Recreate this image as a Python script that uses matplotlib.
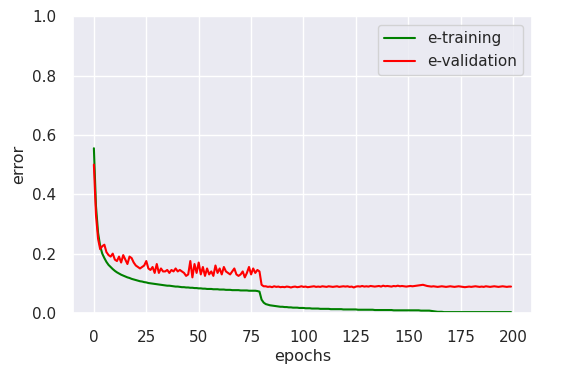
import matplotlib
matplotlib.use("Agg")
import matplotlib.pyplot as plt
import seaborn as sns

sns.set_theme(style="darkgrid")
plt.rcParams['font.family'] = ['DejaVu Sans']

training = [
    0.555, 0.36, 0.27, 0.225, 0.2, 0.185, 0.172, 0.162, 0.155, 0.148,
    0.142, 0.137, 0.133, 0.129, 0.126, 0.123, 0.12, 0.118, 0.115, 0.113,
    0.111, 0.109, 0.107, 0.106, 0.104, 0.103, 0.101, 0.1, 0.099, 0.098,
    0.097, 0.096, 0.095, 0.094, 0.093, 0.092, 0.092, 0.091, 0.09, 0.089,
    0.089, 0.088, 0.087, 0.087, 0.086, 0.086, 0.085, 0.085, 0.084, 0.084,
    0.083, 0.083, 0.082, 0.082, 0.081, 0.081, 0.081, 0.08, 0.08, 0.08,
    0.079, 0.079, 0.079, 0.078, 0.078, 0.078, 0.077, 0.077, 0.077, 0.077,
    0.076, 0.076, 0.076, 0.076, 0.075, 0.075, 0.075, 0.075, 0.074, 0.072,
    0.045, 0.035, 0.03, 0.028, 0.026, 0.025, 0.024, 0.023, 0.022, 0.021,
    0.021, 0.02, 0.02, 0.019, 0.019, 0.018, 0.018, 0.018, 0.017, 0.017,
    0.017, 0.016, 0.016, 0.016, 0.015, 0.015, 0.015, 0.015, 0.014, 0.014,
    0.014, 0.014, 0.014, 0.013, 0.013, 0.013, 0.013, 0.013, 0.013, 0.012,
    0.012, 0.012, 0.012, 0.012, 0.012, 0.012, 0.011, 0.011, 0.011, 0.011,
    0.011, 0.011, 0.011, 0.011, 0.010, 0.010, 0.010, 0.010, 0.010, 0.010,
    0.010, 0.010, 0.010, 0.009, 0.009, 0.009, 0.009, 0.009, 0.009, 0.009,
    0.009, 0.009, 0.009, 0.009, 0.009, 0.009, 0.008, 0.008, 0.008, 0.008,
    0.008, 0.007, 0.006, 0.005, 0.004, 0.004, 0.004, 0.003, 0.003, 0.003,
    0.003, 0.003, 0.003, 0.003, 0.003, 0.003, 0.003, 0.003, 0.003, 0.003,
    0.003, 0.003, 0.003, 0.003, 0.003, 0.003, 0.003, 0.003, 0.003, 0.003,
    0.003, 0.003, 0.003, 0.003, 0.003, 0.003, 0.003, 0.003, 0.003, 0.003,
]

validation = [
    0.50, 0.33, 0.25, 0.215, 0.225, 0.23, 0.205, 0.195, 0.19, 0.20,
    0.18, 0.175, 0.19, 0.17, 0.195, 0.18, 0.165, 0.19, 0.185, 0.17,
    0.16, 0.155, 0.15, 0.155, 0.16, 0.175, 0.15, 0.145, 0.155, 0.135,
    0.165, 0.135, 0.15, 0.14, 0.14, 0.145, 0.135, 0.145, 0.14, 0.15,
    0.14, 0.145, 0.14, 0.135, 0.125, 0.13, 0.175, 0.12, 0.165, 0.135,
    0.17, 0.13, 0.155, 0.125, 0.15, 0.13, 0.14, 0.125, 0.16, 0.135,
    0.15, 0.13, 0.155, 0.14, 0.135, 0.13, 0.14, 0.15, 0.13, 0.125,
    0.13, 0.14, 0.12, 0.135, 0.155, 0.13, 0.15, 0.135, 0.145, 0.14,
    0.095, 0.09, 0.09, 0.088, 0.089, 0.087, 0.09, 0.088, 0.089, 0.087,
    0.088, 0.087, 0.089, 0.088, 0.086, 0.088, 0.089, 0.087, 0.088, 0.09,
    0.088, 0.089, 0.087, 0.088, 0.089, 0.09, 0.088, 0.089, 0.088, 0.09,
    0.089, 0.088, 0.09, 0.089, 0.088, 0.089, 0.09, 0.088, 0.089, 0.09,
    0.089, 0.09, 0.088, 0.089, 0.086, 0.089, 0.09, 0.089, 0.091, 0.089,
    0.09, 0.089, 0.091, 0.09, 0.089, 0.09, 0.091, 0.089, 0.092, 0.09,
    0.091, 0.09, 0.089, 0.091, 0.09, 0.092, 0.09, 0.091, 0.09, 0.089,
    0.09, 0.091, 0.09, 0.091, 0.092, 0.093, 0.094, 0.095, 0.093, 0.091,
    0.09, 0.089, 0.09, 0.089, 0.088, 0.089, 0.09, 0.089, 0.088, 0.089,
    0.09, 0.089, 0.088, 0.089, 0.09, 0.089, 0.088, 0.087, 0.088, 0.089,
    0.088, 0.089, 0.09, 0.089, 0.088, 0.089, 0.088, 0.09, 0.089, 0.088,
    0.089, 0.09, 0.089, 0.088, 0.089, 0.09, 0.089, 0.088, 0.089, 0.089,
]

epochs = list(range(len(training)))

fig = plt.figure(figsize=(5.75, 3.72), dpi=100)
ax = fig.add_axes([0.127, 0.1586, 0.798, 0.798])
ax.plot(epochs, training, color="green", linewidth=1.5, label="e-training")
ax.plot(epochs, validation, color="red", linewidth=1.5, label="e-validation")
ax.set_ylim(0, 1.0)
ax.set_xticks([0, 25, 50, 75, 100, 125, 150, 175, 200])
ax.tick_params(labelsize=11, pad=6)
ax.set_xlabel("epochs", fontsize=11.5, labelpad=3)
ax.set_ylabel("error", fontsize=11.5)
ax.legend(loc="upper right", fontsize=11, borderaxespad=0.6)
fig.savefig("out.png", dpi=100)
